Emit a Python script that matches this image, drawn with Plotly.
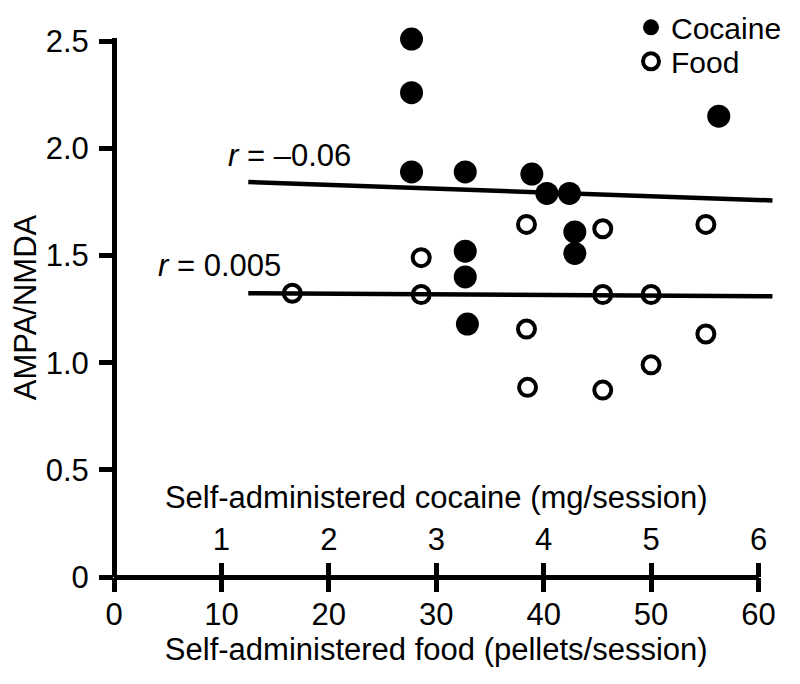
import plotly.graph_objects as go

# ---- data ----
# Cocaine group: x in mg/session (top axis), y = AMPA/NMDA
cocaine_mg = [2.77, 2.77, 2.77, 3.27, 3.89, 4.03, 4.24, 4.29, 4.29, 3.27, 3.27, 3.29, 5.63]
cocaine_ratio = [2.51, 2.26, 1.89, 1.89, 1.88, 1.79, 1.79, 1.61, 1.51, 1.52, 1.40, 1.18, 2.15]

# Food group: x in pellets/session (bottom axis)
food_pellets = [38.4, 45.5, 55.1, 28.6, 28.6, 45.5, 50.0, 38.4, 55.1, 16.6, 38.5, 45.5, 50.0]
food_ratio = [1.645, 1.625, 1.645, 1.49, 1.318, 1.318, 1.318, 1.157, 1.134, 1.324, 0.885, 0.872, 0.99]

# Regression line end points (they run slightly past the last tick)
cocaine_fit_x = [1.25, 6.13]
cocaine_fit_y = [1.843, 1.757]
food_fit_x = [12.5, 61.3]
food_fit_y = [1.324, 1.310]

food_ticks = [0, 10, 20, 30, 40, 50, 60]
cocaine_ticks = [1, 2, 3, 4, 5, 6]
y_ticks = [0, 0.5, 1.0, 1.5, 2.0, 2.5]
y_ticktext = ["0", "0.5", "1.0", "1.5", "2.0", "2.5"]

FONT = "Liberation Sans, Arial, Helvetica, sans-serif"
FS = 31
LW = 5

# layout geometry
W, H = 792, 676
ML, MR, MT, MB = 106, 20, 30, 107
AX_LEN = 644.5                      # pixel length of the 0-60 axis
D = AX_LEN / (W - ML - MR)          # main x-domain end
FOOD_MAX, COC_MAX, Y_MAX = 60, 6, 2.515

fig = go.Figure()

# fit lines on an invisible, wider twin subplot with identical scale
fig.add_trace(go.Scatter(
    x=cocaine_fit_x, y=cocaine_fit_y, xaxis="x4", yaxis="y3", mode="lines",
    line=dict(color="black", width=4.5), showlegend=False, hoverinfo="skip"))
fig.add_trace(go.Scatter(
    x=food_fit_x, y=food_fit_y, xaxis="x3", yaxis="y3", mode="lines",
    line=dict(color="black", width=4.5), showlegend=False, hoverinfo="skip"))

fig.add_trace(go.Scatter(
    x=cocaine_mg, y=cocaine_ratio, xaxis="x2", yaxis="y", mode="markers",
    name="Cocaine", cliponaxis=False, legend="legend",
    marker=dict(symbol="circle", size=23, color="black", line=dict(width=0))))
fig.add_trace(go.Scatter(
    x=food_pellets, y=food_ratio, xaxis="x", yaxis="y", mode="markers",
    name="Food", cliponaxis=False, legend="legend2",
    marker=dict(symbol="circle-open", size=17, color="black",
                line=dict(width=4, color="black"))))

fig.add_annotation(x=10.4, y=1.967, xref="x", yref="y", xanchor="left",
                   yanchor="middle", showarrow=False,
                   text="<i>r</i> = –0.06", font=dict(family=FONT, size=FS, color="black"))
fig.add_annotation(x=3.9, y=1.453, xref="x", yref="y", xanchor="left",
                   yanchor="middle", showarrow=False,
                   text="<i>r</i> = 0.005", font=dict(family=FONT, size=FS, color="black"))

legend_style = dict(xanchor="left", yanchor="top",
                    font=dict(family=FONT, size=30, color="black"),
                    bgcolor="rgba(0,0,0,0)", itemsizing="trace")
LEG_X = (623 - ML) / (W - ML - MR)

fig.update_layout(
    width=W, height=H,
    margin=dict(l=ML, r=MR, t=MT, b=MB, autoexpand=False),
    paper_bgcolor="white", plot_bgcolor="rgba(0,0,0,0)",
    font=dict(family=FONT, size=FS, color="black"),
    showlegend=True,
    legend=dict(x=LEG_X, y=1.068, **legend_style),
    legend2=dict(x=LEG_X, y=1.005, **legend_style),
    xaxis=dict(
        domain=[0, D], range=[0, FOOD_MAX], tickvals=food_ticks,
        ticks="outside", ticklen=14, tickwidth=LW, tickcolor="black",
        showline=False, showgrid=False, zeroline=True, zerolinewidth=LW,
        zerolinecolor="black", ticklabelstandoff=-4,
        tickfont=dict(family=FONT, size=FS, color="black"),
        title=dict(text="Self-administered food (pellets/session)",
                   font=dict(family=FONT, size=FS, color="black"), standoff=7),
    ),
    xaxis2=dict(
        range=[0, COC_MAX], tickvals=cocaine_ticks, overlaying="x", side="top",
        anchor="free", position=0, ticks="outside", ticklen=14,
        tickwidth=LW, tickcolor="black", showline=False,
        showgrid=False, zeroline=False, ticklabelstandoff=1,
        tickfont=dict(family=FONT, size=FS, color="black"),
        title=dict(text="Self-administered cocaine (mg/session)",
                   font=dict(family=FONT, size=FS, color="black"), standoff=2),
    ),
    xaxis3=dict(domain=[0, 1], range=[0, FOOD_MAX / D], anchor="y3",
                visible=False, showgrid=False, zeroline=False),
    xaxis4=dict(range=[0, COC_MAX / D], overlaying="x3", anchor="y3",
                visible=False, showgrid=False, zeroline=False),
    yaxis=dict(
        range=[0, Y_MAX], tickvals=y_ticks, ticktext=y_ticktext, ticks="outside",
        ticklen=14, tickwidth=LW, tickcolor="black", showline=False,
        showgrid=False, zeroline=True, zerolinewidth=LW, zerolinecolor="black",
        ticklabelstandoff=4,
        tickfont=dict(family=FONT, size=FS, color="black"),
        title=dict(text="AMPA/NMDA",
                   font=dict(family=FONT, size=FS, color="black"), standoff=0),
    ),
    yaxis3=dict(domain=[0, 1], range=[0, Y_MAX], anchor="x3",
                visible=False, showgrid=False, zeroline=False),
)

fig.write_html("out.html")
